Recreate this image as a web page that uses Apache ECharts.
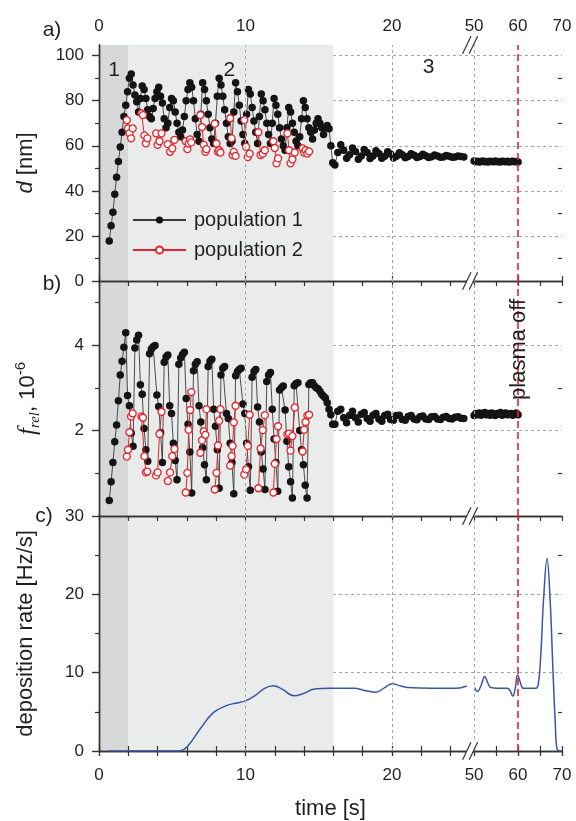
<!DOCTYPE html>
<html>
<head>
<meta charset="utf-8">
<script src="https://cdn.jsdelivr.net/npm/echarts@6/dist/echarts.min.js"></script>
<style>
  html, body { margin: 0; padding: 0; background: #fff; }
  #chart { width: 576px; height: 821px; }
</style>
</head>
<body>
<div id="chart"></div>
<script>
// ---- population 1, oscillating phase (sampled every 0.125 s from 0.7 s) ----
const cycleStart = 0.7, cycleStep = 0.125;
const cycleD = [
  17.8, 24.5, 30.5, 38.5, 46.0, 53.0, 59.5, 66.0, 73.0, 78.0,
  84.0, 90.0, 91.8, 87.0, 82.5, 79.5, 75.0, 81.0, 86.5, 85.0,
  81.0, 76.0, 73.0, 72.0, 76.5, 81.0, 84.0, 86.0, 82.0, 79.0,
  72.0, 68.0, 70.0, 77.0, 81.0, 80.0, 75.0, 70.0, 66.0, 64.0,
  67.0, 73.0, 80.0, 85.0, 88.0, 86.0, 80.0, 72.0, 65.0, 62.0,
  74.0, 88.0, 85.0, 80.0, 74.0, 68.0, 63.0, 61.0, 70.0, 82.0,
  90.0, 87.0, 82.0, 76.0, 70.0, 64.0, 61.0, 62.0, 75.0, 88.0,
  84.0, 78.0, 71.0, 65.0, 61.0, 74.0, 85.0, 83.0, 77.0, 71.0,
  66.0, 61.0, 73.0, 83.0, 80.0, 76.0, 70.0, 65.0, 61.0, 70.0,
  81.0, 78.0, 74.0, 68.0, 63.0, 60.0, 58.0, 68.0, 77.0, 75.0,
  70.0, 66.0, 62.0, 60.0, 64.0, 72.0, 80.0, 77.0, 72.0, 68.0,
  66.0, 63.0, 67.0, 70.0, 72.0, 70.0, 68.0, 65.0, 68.0, 69.0,
  67.5, 60.0, 52.5
];
const cycleF = [
  0.36, 0.80, 1.25, 1.74, 2.13, 2.70, 3.30, 3.62, 3.95, 4.29,
  2.82, 2.58, 1.94, 1.63, 3.93, 4.12, 4.23, 3.07, 2.85, 2.05,
  1.55, 1.28, 3.80, 3.91, 3.96, 3.99, 2.83, 2.56, 1.95, 1.25,
  3.60, 3.72, 3.77, 2.58, 2.40, 1.70, 1.30, 0.85, 3.55, 3.70,
  3.78, 3.83, 2.75, 2.15, 1.50, 0.54, 3.40, 3.55, 3.61, 2.58,
  2.20, 1.60, 1.20, 0.85, 3.50, 3.62, 3.67, 2.50, 2.10, 1.55,
  0.65, 3.30, 3.46, 3.50, 2.40, 2.28, 1.70, 1.25, 0.52, 3.28,
  3.38, 3.43, 3.46, 2.62, 2.40, 1.70, 1.15, 0.60, 3.25, 3.38,
  3.43, 2.55, 2.20, 1.50, 1.10, 0.62, 3.15, 3.30, 3.36, 2.50,
  1.80, 1.25, 0.58, 2.95, 3.00, 3.04, 2.48, 1.75, 1.15, 0.80,
  0.42, 3.05, 3.10, 3.12, 2.00, 1.55, 1.20, 0.72, 0.42, 3.08,
  3.12, 3.12, 3.05, 3.00, 2.98, 2.92, 2.85, 2.80, 2.76, 2.65,
  2.50, 2.37, 2.15
];

// ---- population 1, settling phase (every 0.2 s from 16.1 s) ----
const settleStart = 16.1, settleStep = 0.2;
const settleD = [
  51.5, 57.0, 60.5, 58.0, 54.5, 56.0, 59.0, 57.5, 54.0, 55.5,
  58.3, 57.0, 54.3, 55.5, 57.8, 56.6, 54.5, 55.4, 57.3, 56.3,
  54.6, 55.3, 56.9, 56.0, 54.7, 55.2, 56.5, 55.8, 54.8, 55.2,
  56.2, 55.6, 54.8, 55.1, 55.9, 55.5, 54.9, 55.0, 55.7, 55.3,
  54.9, 55.0, 55.5, 55.2, 55.0
];
const settleF = [
  2.15, 2.45, 2.50, 2.30, 2.18, 2.35, 2.45, 2.30, 2.20, 2.38,
  2.42, 2.28, 2.22, 2.36, 2.40, 2.27, 2.22, 2.35, 2.38, 2.26,
  2.24, 2.35, 2.36, 2.26, 2.24, 2.33, 2.35, 2.27, 2.25, 2.32,
  2.34, 2.27, 2.26, 2.32, 2.33, 2.27, 2.26, 2.31, 2.33, 2.28,
  2.27, 2.31, 2.32, 2.29, 2.28
];

// ---- population 1, late phase until plasma off (every 0.4 s from 50 s) ----
const lateStart = 50, lateStep = 0.4;
const lateD = [53.2, 52.9, 53.1, 52.8, 53.0, 53.2, 52.9, 53.0, 52.8, 53.1, 53.0, 52.9, 53.2,
               52.9, 53.0, 52.8, 53.1, 53.0, 52.9, 53.1, 52.8, 53.0, 53.1, 52.9, 53.0, 52.8];
const lateF = [2.35, 2.40, 2.37, 2.41, 2.36, 2.39, 2.42, 2.37, 2.40, 2.36, 2.41, 2.38, 2.35,
               2.40, 2.38, 2.42, 2.36, 2.39, 2.41, 2.37, 2.38, 2.40, 2.36, 2.39, 2.41, 2.37];

// ---- population 2 (null separates the clusters of each growth cycle) ----
const pop2Time = [1.90, 1.98, 2.08, 2.19, 2.30, null, 2.90, 3.00, 3.10, 3.20, 3.30, null,
  3.90, 4.00, 4.13, 4.27, null, 4.70, 4.85, 5.00, 5.15, null, 5.92, 6.03, 6.12, 6.22, 6.30, null,
  6.92, 7.03, 7.15, 7.26, 7.33, null, 7.90, 8.02, 8.12, 8.20, 8.29, null, 8.95, 9.05, 9.12, 9.20, 9.32, null,
  9.92, 10.04, 10.16, 10.28, null, 10.88, 11.03, 11.18, 11.32, null, 11.90, 12.00, 12.12, 12.22, null,
  12.86, 12.97, 13.07, 13.20, 13.36, null, 13.90, 14.00, 14.10, 14.22, 14.34];
const pop2D = [71.4, 67.7, 65.5, 63.3, 67.7, null, 74.4, 73.6, 64.6, 61.1, 63.3, null,
  65.5, 60.4, 62.0, 65.5, null, 60.7, 57.3, 58.8, 62.6, null, 62.0, 58.5, 61.0, 62.8, 61.5, null,
  73.6, 68.3, 60.4, 57.3, 58.5, null, 69.8, 61.0, 57.3, 58.0, 57.0, null, 72.2, 63.3, 55.9, 57.3, 55.5, null,
  71.4, 59.5, 55.0, 56.5, null, 66.0, 55.9, 56.5, 58.0, null, 62.0, 59.0, 52.2, 54.4, null,
  65.5, 58.0, 52.2, 54.0, 57.0, null, 58.8, 57.0, 58.0, 56.5, 57.5];
const pop2F = [1.39, 1.55, 1.96, 2.33, 2.40, null, 2.33, 2.30, 1.40, 1.02, 1.04, null,
  0.95, 1.02, 1.92, 2.44, null, 0.82, 1.02, 1.40, 1.57, null, 0.55, 1.01, 2.02, 2.48, 2.90, null,
  1.48, 1.77, 1.98, 1.90, 2.50, null, 0.62, 1.01, 1.65, 2.23, 2.50, null, 1.18, 1.40, 1.64, 2.19, 2.58, null,
  0.97, 1.09, 1.64, 2.37, null, 0.65, 1.58, 2.01, 2.36, null, 0.55, 1.22, 1.80, 2.10, null,
  1.91, 1.93, 1.53, 1.87, 2.54, null, 1.51, 2.02, 2.20, 2.35, 2.37];

// ---- deposition rate (null marks the axis break) ----
const rateTime = [0.7, 2.0, 4.0, 5.5, 6.0, 6.9, 7.8, 8.7, 9.3, 10.0,
  10.6, 11.3, 11.9, 12.5, 13.3, 13.9, 14.7, 15.8, 17.4, 18.2,
  18.9, 19.5, 20.0, 20.6, 21.1, 22.7, 24.4, 25.1, null,
  50.1, 50.8, 51.6, 52.4, 53.2, 53.8, 55.3, 57.5, 58.2, 58.8,
  59.3, 59.9, 60.5, 61.2, 62.5, 64.0, 64.6, 65.2, 65.8, 66.6,
  67.3, 67.9, 68.5, 68.9, 70.0];
const rateValue = [0, 0, 0, 0, 0.5, 2.8, 4.9, 5.8, 6.1, 6.4,
  7.0, 8.0, 8.33, 7.9, 7.05, 7.3, 7.9, 8.0, 8.0, 7.7,
  7.5, 8.1, 8.6, 8.3, 8.1, 8.0, 8.0, 8.3, null,
  8.1, 7.6, 8.4, 9.5, 8.6, 8.1, 8.0, 8.0, 7.7, 7.0,
  7.8, 9.7, 8.8, 8.0, 8.0, 8.0, 8.5, 12.5, 19.3, 24.6,
  19.3, 10.9, 3.2, 0.2, 0.0];

// ---- axes ----
const timeLabels = [0, 10, 20, 50, 60, 70];
const timeTicks = [0, 2, 4, 6, 8, 10, 12, 14, 16, 18, 20, 22, 24, 50, 55, 60, 65, 70];
const timeGrid = [10, 20, 50];
const plasmaOff = 60;
const phaseBands = [[0, 2], [2, 16]];
const phaseNames = ['1', '2', '3'];
const dMajor = [0, 20, 40, 60, 80, 100], dMinor = [10, 30, 50, 70, 90];
const fMajor = [2, 4], fMinor = [1, 3, 5];
const rateMajor = [0, 10, 20, 30], rateMinor = [5, 15, 25];

// broken time axis: 0..25.6 s at full scale, then 50..70 s at 0.3x scale
const BREAK_END = 25.6, BREAK_RESUME = 50, LATE_SCALE = 0.3;
const axisPos = t => t <= BREAK_END ? t : BREAK_END + (t - BREAK_RESUME) * LATE_SCALE;
const X_MAX = axisPos(70);
// tick label text: the time whose axis position matches
const timeText = u => {
  const hit = timeLabels.find(t => Math.abs(axisPos(t) - u) < 1e-6);
  return hit === undefined ? '' : String(hit);
};

const GAP = ['-', '-'];
const sampled = (start, step, vals) => vals.map((v, i) => [axisPos(start + i * step), v]);
const paired = (times, vals) => times.map((t, i) => t === null ? GAP : [axisPos(t), vals[i]]);
const pop1 = (c, s, l) => [...sampled(cycleStart, cycleStep, c), ...sampled(settleStart, settleStep, s), GAP, ...sampled(lateStart, lateStep, l)];

const FONT = '"Liberation Sans", Arial, sans-serif';
const INK = '#231f20';
const FRAME = '#333333';
const RED = '#e3242b';
const GRID_DASH = { color: '#a6a6a6', width: 1, type: [3, 3] };
const frameLine = { show: true, lineStyle: { color: FRAME, width: 1.4 } };
const tickLine = { color: FRAME, width: 1.2 };
const labelStyle = { fontSize: 17, fontFamily: FONT, color: INK };

const panels = [
  { top: 45, height: 236, range: [0, 104.7], interval: 20, major: dMajor, minor: dMinor,
    name: '{i|d} [nm]', nameGap: 58 },
  { top: 281, height: 235, range: [0, 5.5], interval: 2, major: fMajor, minor: fMinor,
    name: '{f|f}{sub|rel}, 10{sup|-6}', nameGap: 56 },
  { top: 516, height: 236, range: [0, 30], interval: 10, major: rateMajor, minor: rateMinor,
    name: 'deposition rate [Hz/s]', nameGap: 58 }
];

const grid = panels.map(p => ({ left: 99, right: 14, top: p.top, height: p.height }));
const xAxis = [], yAxis = [];
panels.forEach((p, k) => {
  const xb = { type: 'value', gridIndex: k, min: 0, max: X_MAX, z: 1, splitLine: { show: false } };
  // bottom edge
  xAxis.push(Object.assign({}, xb, {
    position: 'bottom', axisLine: frameLine,
    axisTick: { show: k === 2, inside: true, length: 5, customValues: timeTicks.map(axisPos), lineStyle: tickLine },
    axisLabel: { show: k === 2, customValues: timeLabels.map(axisPos), formatter: timeText, margin: 16, ...labelStyle },
    name: k === 2 ? 'time [s]' : '', nameLocation: 'middle', nameGap: 47,
    nameTextStyle: { fontSize: 22, fontFamily: FONT, color: INK }
  }));
  // top edge
  xAxis.push(Object.assign({}, xb, {
    position: 'top', axisLine: frameLine,
    axisTick: { show: true, inside: true, length: 5, customValues: timeTicks.map(axisPos), lineStyle: tickLine },
    axisLabel: { show: k === 0, customValues: timeLabels.map(axisPos), formatter: timeText, margin: 10, ...labelStyle }
  }));
  // outward major ticks on the outer edges
  xAxis.push(Object.assign({}, xb, {
    show: k !== 1, position: k === 0 ? 'top' : 'bottom', axisLine: { show: false },
    axisTick: { show: true, inside: false, length: 5, customValues: timeLabels.map(axisPos), lineStyle: tickLine },
    axisLabel: { show: false }
  }));

  const yb = { type: 'value', gridIndex: k, min: p.range[0], max: p.range[1], interval: p.interval, z: 1 };
  yAxis.push(Object.assign({}, yb, {
    position: 'left', axisLine: frameLine,
    axisTick: { show: true, inside: false, length: 7, customValues: p.major, lineStyle: tickLine },
    axisLabel: { show: true, customValues: p.major, margin: 15, ...labelStyle },
    splitLine: { show: true, lineStyle: GRID_DASH },
    name: p.name, nameLocation: 'middle', nameGap: p.nameGap, nameRotate: 90,
    nameTextStyle: {
      fontSize: 22, fontFamily: FONT, color: INK, lineHeight: 30,
      rich: {
        i: { fontSize: 22, fontFamily: FONT, fontStyle: 'italic', color: INK, lineHeight: 30 },
        f: { fontSize: 25, fontFamily: '"Liberation Serif", serif', fontStyle: 'italic', color: INK, lineHeight: 30 },
        sub: { fontSize: 15, fontFamily: '"Liberation Serif", serif', fontStyle: 'italic', color: INK, lineHeight: 17, verticalAlign: 'bottom' },
        sup: { fontSize: 15, fontFamily: FONT, color: INK, lineHeight: 15, verticalAlign: 'top' }
      }
    }
  }));
  yAxis.push(Object.assign({}, yb, {
    position: 'left', axisLine: { show: false },
    axisTick: { show: true, inside: false, length: 4, customValues: p.minor, lineStyle: tickLine },
    axisLabel: { show: false }, splitLine: { show: false }
  }));
  yAxis.push(Object.assign({}, yb, {
    position: 'right', axisLine: frameLine,
    axisTick: { show: true, inside: true, length: 7, customValues: p.major, lineStyle: tickLine },
    axisLabel: { show: false }, splitLine: { show: false }
  }));
  yAxis.push(Object.assign({}, yb, {
    position: 'right', axisLine: { show: false },
    axisTick: { show: true, inside: true, length: 4, customValues: p.minor, lineStyle: tickLine },
    axisLabel: { show: false }, splitLine: { show: false }
  }));
});

const series = [];
panels.forEach((p, k) => {
  const ax = { xAxisIndex: 3 * k, yAxisIndex: 4 * k };
  // phase shading
  series.push(Object.assign({}, ax, {
    type: 'line', data: [GAP], z: 0, silent: true, symbol: 'none',
    markArea: {
      silent: true,
      data: [
        [{ xAxis: axisPos(phaseBands[0][0]), itemStyle: { color: '#d6d8d9', opacity: 1 } }, { xAxis: axisPos(phaseBands[0][1]) }],
        [{ xAxis: axisPos(phaseBands[1][0]), itemStyle: { color: '#eaebeb', opacity: 1 } }, { xAxis: axisPos(phaseBands[1][1]) }]
      ]
    }
  }));
  // vertical grid lines
  series.push(Object.assign({}, ax, {
    type: 'line', data: [GAP], z: 1, silent: true, symbol: 'none',
    markLine: { silent: true, symbol: ['none', 'none'], label: { show: false }, lineStyle: GRID_DASH,
      data: timeGrid.map(t => ({ xAxis: axisPos(t) })) }
  }));
  // plasma switched off
  series.push(Object.assign({}, ax, {
    type: 'line', data: [GAP], z: 4, silent: true, symbol: 'none',
    markLine: { silent: true, symbol: ['none', 'none'], label: { show: false },
      lineStyle: { color: RED, width: 1.6, type: [7, 4] },
      data: [{ xAxis: axisPos(plasmaOff) }] }
  }));
});

const pop1Style = {
  type: 'line', name: 'population 1', symbol: 'circle', symbolSize: 7.5, z: 2,
  itemStyle: { color: '#141414' }, lineStyle: { color: '#3a3a3a', width: 0.9 }, silent: true
};
const pop2Style = {
  type: 'line', name: 'population 2', symbol: 'circle', symbolSize: 7, z: 3,
  itemStyle: { color: '#ffffff', borderColor: RED, borderWidth: 1.3 }, lineStyle: { color: RED, width: 1 }, silent: true
};
series.push(Object.assign({}, pop1Style, { xAxisIndex: 0, yAxisIndex: 0, data: pop1(cycleD, settleD, lateD) }));
series.push(Object.assign({}, pop2Style, { xAxisIndex: 0, yAxisIndex: 0, data: paired(pop2Time, pop2D) }));
series.push(Object.assign({}, pop1Style, { xAxisIndex: 3, yAxisIndex: 4, data: pop1(cycleF, settleF, lateF) }));
series.push(Object.assign({}, pop2Style, { xAxisIndex: 3, yAxisIndex: 4, data: paired(pop2Time, pop2F) }));
series.push({
  type: 'line', name: 'deposition rate', xAxisIndex: 6, yAxisIndex: 8, z: 2, silent: true,
  data: paired(rateTime, rateValue), smooth: 0.4, showSymbol: false, symbol: 'none',
  lineStyle: { color: '#3b55a6', width: 1.5 }
});

const chart = echarts.init(document.getElementById('chart'), null, { renderer: 'canvas' });
chart.setOption({
  backgroundColor: '#ffffff',
  animation: false,
  grid, xAxis, yAxis, series,
  legend: {
    data: ['population 1', 'population 2'], orient: 'vertical', left: 127, top: 205,
    itemWidth: 53, itemHeight: 9, itemGap: 10,
    textStyle: { fontSize: 20, fontFamily: FONT, color: INK, padding: [0, 0, 0, 3] },
    selectedMode: false
  }
});

// annotations placed through the axes
const pix = (k, t, v) => chart.convertToPixel({ xAxisIndex: 3 * k, yAxisIndex: 4 * k }, [axisPos(t), v]);
const graphics = [];
const txt = (x, y, text, size, extra) => graphics.push(Object.assign({
  type: 'text', x, y, z: 60, silent: true,
  style: { text, fontSize: size, fontFamily: FONT, fill: INK, align: 'center', verticalAlign: 'middle' }
}, extra || {}));

txt(52, 30, 'a)', 21);
txt(52, 284, 'b)', 21);
txt(44, 516, 'c)', 21);

const phaseSpots = [[1.03, 93.6], [8.9, 93.6], [22.5, 95]];
phaseSpots.forEach((s, i) => { const q = pix(0, s[0], s[1]); txt(q[0], q[1], phaseNames[i], 21); });

const po = pix(1, plasmaOff, 3.9);
txt(po[0] + 1, po[1], 'plasma off', 22, { rotation: Math.PI / 2 });

// break marks on every horizontal frame line
const edges = [pix(0, 50, 104.7)[1], pix(0, 50, 0)[1], pix(1, 50, 0)[1], pix(2, 50, 0)[1]];
const cx = pix(0, 50, 0)[0] - 4;
edges.forEach(y => {
  const dx = 4.2, dy = 8.7, w = 3.3;
  graphics.push({ type: 'polygon', z: 70, silent: true,
    shape: { points: [[cx - w - dx, y + dy], [cx + w - dx, y + dy], [cx + w + dx, y - dy], [cx - w + dx, y - dy]] },
    style: { fill: '#ffffff' } });
  [-w, w].forEach(o => graphics.push({ type: 'line', z: 71, silent: true,
    shape: { x1: cx + o - dx, y1: y + dy, x2: cx + o + dx, y2: y - dy },
    style: { stroke: FRAME, lineWidth: 1.2 } }));
});
chart.setOption({ graphic: graphics });
</script>
</body>
</html>
